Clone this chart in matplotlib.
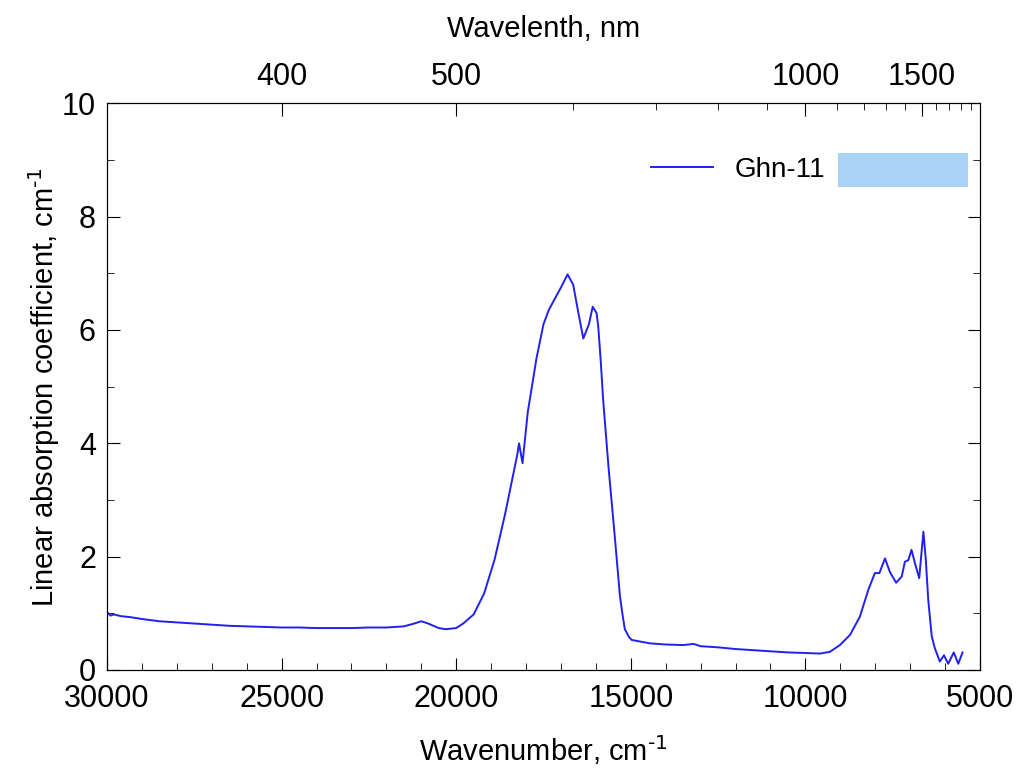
import matplotlib
matplotlib.use('Agg')
import matplotlib.pyplot as plt
from matplotlib.patches import Rectangle

plt.rcParams['font.family'] = ['Liberation Sans', 'DejaVu Sans']
plt.rcParams['axes.unicode_minus'] = False
plt.rcParams['mathtext.default'] = 'regular'

# spectrum
wavenumber = [30000, 29900, 29800, 29600, 29300, 29000, 28500, 28000, 27500, 27000, 26500,
              26000, 25500, 25000, 24500, 24000, 23500, 23000, 22500, 22000, 21500,
              21200, 21000, 20800, 20500, 20300, 20000, 19800, 19500, 19200, 18900,
              18600, 18400, 18250, 18200, 18100, 17950, 17700, 17500, 17350, 17220, 17000, 16810,
              16650, 16500, 16360, 16200, 16090, 15980, 15930, 15860, 15790, 15640, 15450, 15310,
              15230, 15170, 15050, 14970,
              14450, 14000, 13500, 13200, 13000, 12500, 12000, 11500, 11000, 10500, 10000,
              9580, 9300, 9010, 8720, 8440, 8200, 8010, 7880, 7720, 7580,
              7400, 7240, 7150, 7050, 6960, 6860, 6740, 6620, 6550, 6480,
              6380, 6290, 6150, 6030, 5910, 5750, 5620, 5500]
absorption = [1.02, 0.96, 0.98, 0.95, 0.93, 0.90, 0.86, 0.84, 0.82, 0.80, 0.78,
              0.77, 0.76, 0.75, 0.75, 0.74, 0.74, 0.74, 0.75, 0.75, 0.77,
              0.82, 0.86, 0.82, 0.74, 0.72, 0.74, 0.82, 0.98, 1.35, 1.95,
              2.75, 3.35, 3.80, 4.00, 3.65, 4.55, 5.50, 6.10, 6.35, 6.50, 6.75, 6.98,
              6.80, 6.30, 5.85, 6.10, 6.41, 6.30, 6.05, 5.45, 4.76, 3.60, 2.30, 1.30,
              0.95, 0.72, 0.58, 0.53,
              0.47, 0.45, 0.44, 0.46, 0.42, 0.40, 0.37, 0.35, 0.33, 0.31, 0.30,
              0.29, 0.32, 0.44, 0.62, 0.94, 1.41, 1.71, 1.71, 1.97, 1.73,
              1.54, 1.65, 1.91, 1.94, 2.12, 1.88, 1.62, 2.44, 1.94, 1.23,
              0.59, 0.38, 0.15, 0.26, 0.11, 0.31, 0.11, 0.31]

wl_major = [400, 500, 1000, 1500]
wl_minor = [600, 700, 800, 900, 1100, 1200, 1300, 1400, 1600, 1700, 1800, 1900, 2000]

fig = plt.figure(figsize=(10.21, 7.71), dpi=100)
ax = fig.add_axes([0.1048, 0.131, 0.855, 0.735])

ax.plot(wavenumber, absorption, color='#2020f0', lw=1.4, label='Ghn-11')
ax.set_xlim(30000, 5000)
ax.set_ylim(0, 10)
ax.set_xticks([30000, 25000, 20000, 15000, 10000, 5000])
ax.set_xticks(range(29000, 5000, -1000), minor=True)
ax.set_yticks([0, 2, 4, 6, 8, 10])
ax.set_yticks([1, 3, 5, 7, 9], minor=True)
ax.tick_params(which='both', direction='in', labelsize=22, right=True)
ax.tick_params(axis='x', pad=10)
ax.tick_params(axis='y', pad=8)
ax.tick_params(which='major', length=9)
ax.tick_params(which='minor', length=5)
ax.set_xlabel(r'Wavenumber, cm$^{\text{-1}}$', fontsize=21, labelpad=14)
ax.set_ylabel(r'Linear absorption coefficient, cm$^{\text{-1}}$', fontsize=21, labelpad=0)

ax2 = ax.twiny()
ax2.set_xlim(ax.get_xlim())
ax2.set_xticks([1e7 / w for w in wl_major])
ax2.set_xticklabels([str(w) for w in wl_major])
ax2.set_xticks([1e7 / w for w in wl_minor], minor=True)
ax2.tick_params(which='both', direction='in', labelsize=22, pad=8)
ax2.tick_params(which='major', length=9)
ax2.tick_params(which='minor', length=5)
ax2.set_xlabel('Wavelenth, nm', fontsize=21, labelpad=18)

ax.legend(loc='center left', bbox_to_anchor=(0.595, 0.882), frameon=False,
          fontsize=20, handlelength=2.2)
ax.add_patch(Rectangle((0.837, 0.852), 0.149, 0.06, transform=ax.transAxes,
                       facecolor='#aad2f5', edgecolor='none'))

fig.savefig('out.png', dpi=100)
